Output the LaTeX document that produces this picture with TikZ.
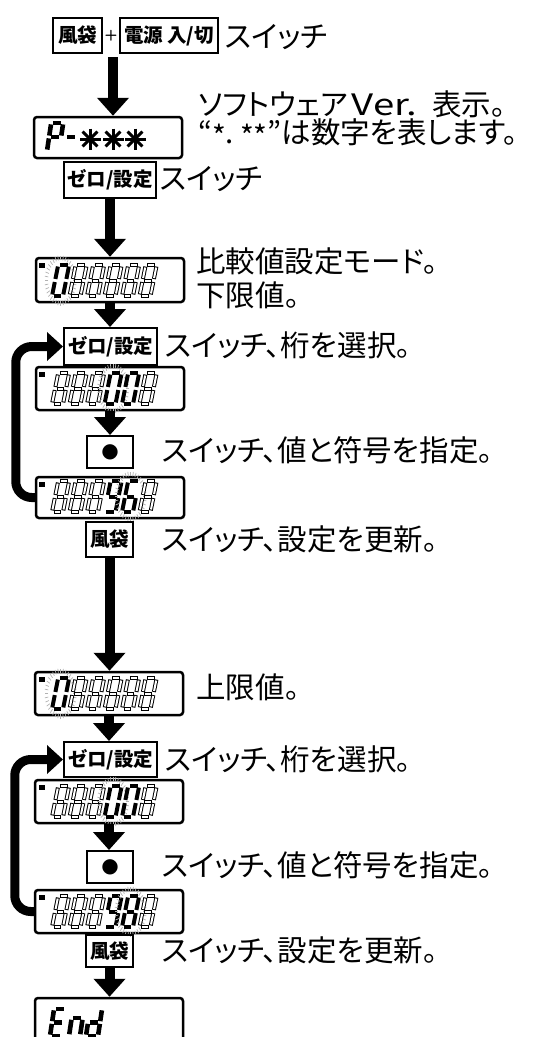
\documentclass[tikz,border=0pt]{standalone}
\usepackage{fontspec}
\usetikzlibrary{arrows.meta,calc}
\newfontfamily\jp{Noto Sans CJK JP}[RawFeature=+palt]
\newfontfamily\jpw{Noto Sans CJK JP}[FakeStretch=1.3]
\newfontfamily\dejavu{DejaVu Sans}
% seven-segment unit paths (y up = negative)
\def\SGa{(0.15,-1)--(0.85,-1)}
\def\SGb{(1,-0.95)--(1,-0.55)}
\def\SGc{(1,-0.45)--(1,-0.05)}
\def\SGd{(0.15,0)--(0.85,0)}
\def\SGe{(0,-0.45)--(0,-0.05)}
\def\SGf{(0,-0.95)--(0,-0.55)}
\def\SGg{(0.15,-0.5)--(0.85,-0.5)}
% x, y(bottom), W, H, slant, segments, style
\newcommand\sseg[7]{%
  \begin{scope}[shift={(#1,#2)},xslant=#5,xscale=#3,yscale=#4]
    \foreach \s in {#6}{\draw[#7] \csname SG\s\endcsname;}
  \end{scope}}
\newcommand\hd[2]{%
  \sseg{#1}{#2}{11}{31}{0.2}{a,b,c,d,e,f,g}{hb}%
  \sseg{#1}{#2}{11}{31}{0.2}{a,b,c,d,e,f,g}{hw}}
\newcommand\ld[3]{\sseg{#1}{#2}{11}{31}{0.2}{#3}{lit}}
\newcommand\spk[2]{%
  \begin{scope}[shift={({#1+8.6},{#2-15.5})}]
    \foreach \a in {0,10,...,350}{\draw[spark] (\a:12.5pt and 20.5pt) -- (\a:16pt and 25pt);}
  \end{scope}}
\newcommand\ind[1]{\fill (39,{#1+5}) rectangle (45,{#1+9.5});}
\begin{document}
\begin{tikzpicture}[x=1pt,y=-1pt,
  desc/.style={anchor=base west,inner sep=0pt,font=\jp\fontsize{29.5}{34}\selectfont},
  keybox/.style={draw,line width=2pt,inner sep=0pt,font=\jp\bfseries\fontsize{19.5}{22}\selectfont},
  disp/.style={draw,line width=2.5pt,rounded corners=3pt,inner sep=0pt,minimum width=148pt},
  arr/.style={line width=10pt,-{Triangle[width=31pt,length=18pt]}},
  looparr/.style={line width=9pt,rounded corners=16pt,-{Triangle[width=28pt,length=16pt]}},
  hb/.style={line width=4pt},
  hw/.style={white,line width=2pt,shorten <=1pt,shorten >=1pt},
  lit/.style={line width=4pt},
  litb/.style={line width=4.6pt},
  spark/.style={gray!60,line width=0.7pt},
  star/.style={line width=3pt}]
\fill[white] (0,0) rectangle (542,1037);
\useasboundingbox (0,0) rectangle (542,1037);

% ---- start
\node[keybox,minimum width=49pt,minimum height=35pt] (fw1) at (77.5,35.5) {風袋};
\node[inner sep=0pt,font=\sffamily\bfseries\fontsize{15}{15}\selectfont] (plus) at (111,36) {+};
\node[keybox,minimum width=98pt,minimum height=35pt] (pw) at (169,35.5) {電源 入/切};
\node[desc] (t1) at (225,47) {スイッチ};
\coordinate (a1) at (113,57);

% ---- P-*** display
\node[disp,minimum height=41pt] (dp) at (108,137.5) {};
\draw[arr] (a1) -- (a1 |- dp.north);
\sseg{47}{151}{12}{28}{0.15}{a,b,f,g,e}{litb}
\draw[line width=4pt] (67,137) -- (75,137);
\foreach \c in {90,113,135}{
  \foreach \a in {0,45,90,135}{\draw[star] ([shift={(\a:10.5pt)}]\c,139) -- ([shift={(\a+180:10.5pt)}]\c,139);}}
\node[desc] (t2) at (198,115) {ソフトウェア\hspace{0.12em}{\jpw Ver.}\hspace{0.5em}表示。};
\node[desc] (t3) at (198,143.5) {“\raisebox{-0.12em}{*}.\hspace{0.2em}\raisebox{-0.12em}{**}”は数字を表します。};

\node[keybox,minimum width=92pt,minimum height=36pt] (z1) at (110,180) {ゼロ/設定};
\node[desc] (t4) at (160,189) {スイッチ};

% ---- lower limit
\node[disp,minimum height=44pt] (d1) at (110,280) {};
\draw[arr] (z1.south) -- (z1.south |- d1.north);
\ind{258}
\ld{52}{296}{a,b,c,d,e,f}\spk{52}{296}
\hd{69.5}{296}\hd{87}{296}\hd{104.5}{296}\hd{122}{296}\hd{139.5}{296}
\node[desc] (t5) at (196,272) {比較値設定モード。};
\node[desc] (t6) at (196,306) {下限値。};

\node[keybox,minimum width=93pt,minimum height=37pt] (z2) at (110.5,346.5) {ゼロ/設定};
\draw[arr] (d1.south) -- (d1.south |- z2.north);
\node[desc] (t7) at (165,356) {スイッチ、桁を選択。};

\node[disp,minimum height=43pt] (d2) at (110,388.5) {};
\ind{367}
\hd{52}{404}\hd{69.5}{404}\hd{87}{404}
\ld{104.5}{404}{a,b,c,d,e,f}\spk{104.5}{404}
\ld{122}{404}{a,b,c,d,e,f}
\hd{139.5}{404}

\node[draw,line width=2pt,minimum width=46pt,minimum height=32pt,inner sep=0pt,font=\dejavu\fontsize{20}{20}\selectfont] (k1) at (110,452) {●};
\draw[arr] (d2.south) -- (d2.south |- k1.north);
\node[desc] (t8) at (162,461) {スイッチ、値と符号を指定。};

\node[disp,minimum height=41pt] (d3) at (110,497.5) {};
\ind{477}
\hd{52}{512}\hd{69.5}{512}\hd{87}{512}
\ld{104.5}{512}{a,b,c,d,f,g}
\ld{122}{512}{a,c,d,e,f,g}\spk{122}{512}
\hd{139.5}{512}
\draw[looparr] (d3.west) -- ++(-19,0) |- (z2.west);

\node[keybox,minimum width=47pt,minimum height=35pt] (fw2) at (109.5,539.5) {風袋};
\node[desc] (t9) at (162,550) {スイッチ、設定を更新。};

% ---- upper limit
\node[disp,minimum height=43pt] (d4) at (109,693.5) {};
\draw[arr] (fw2.south) -- (fw2.south |- d4.north);
\ind{672}
\ld{52}{709}{a,b,c,d,e,f}\spk{52}{709}
\hd{69.5}{709}\hd{87}{709}\hd{104.5}{709}\hd{122}{709}\hd{139.5}{709}
\node[desc] (t10) at (196,698) {上限値。};

\node[keybox,minimum width=93pt,minimum height=35pt] (z3) at (110.5,759.5) {ゼロ/設定};
\draw[arr] (d4.south) -- (d4.south |- z3.north);
\node[desc] (t11) at (165,770) {スイッチ、桁を選択。};

\node[disp,minimum height=43pt] (d5) at (109,801.5) {};
\ind{780}
\hd{52}{817}\hd{69.5}{817}\hd{87}{817}
\ld{104.5}{817}{a,b,c,d,e,f}\spk{104.5}{817}
\ld{122}{817}{a,b,c,d,e,f}
\hd{139.5}{817}

\node[draw,line width=2pt,minimum width=46pt,minimum height=32pt,inner sep=0pt,font=\dejavu\fontsize{20}{20}\selectfont] (k2) at (110,867) {●};
\draw[arr] (d5.south) -- (d5.south |- k2.north);
\node[desc] (t12) at (162,876) {スイッチ、値と符号を指定。};

\node[disp,minimum height=43pt] (d6) at (109,911.5) {};
\ind{890}
\hd{52}{927}\hd{69.5}{927}\hd{87}{927}
\ld{104.5}{927}{a,b,c,d,f,g}
\ld{122}{927}{a,b,c,d,e,f,g}\spk{122}{927}
\hd{139.5}{927}
\draw[looparr] (d6.west) -- ++(-19,0) |- (z3.west);

\node[keybox,minimum width=47pt,minimum height=32pt] (fw3) at (109.5,951) {風袋};
\node[desc] (t13) at (162,961) {スイッチ、設定を更新。};

% ---- End
\node[disp,minimum height=43pt] (de) at (109,1019.5) {};
\draw[arr] (fw3.south) -- (fw3.south |- de.north);
\sseg{50}{1036}{12}{27}{0.15}{a,d,e,f,g}{litb}
\sseg{69}{1036}{11}{36}{0.15}{c,e,g}{litb}
\sseg{86}{1036}{12}{27}{0.15}{b,c,d,e,g}{litb}
\end{tikzpicture}
\end{document}
